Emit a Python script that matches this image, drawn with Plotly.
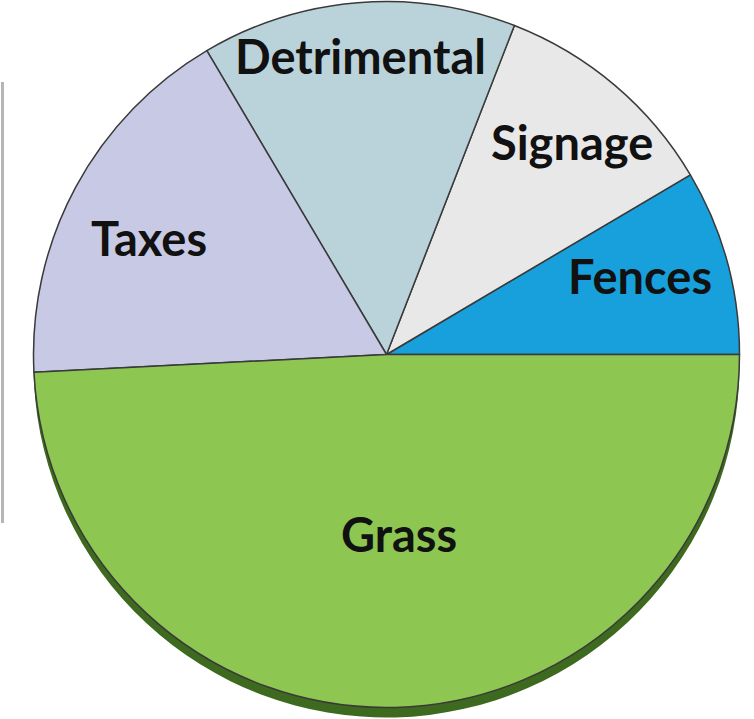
import plotly.graph_objects as go

labels = ["Fences", "Signage", "Detrimental", "Taxes", "Grass"]
values = [8.5, 10.6, 14.4, 17.3, 49.2]
colors = ["#17A0DC", "#E8E8E8", "#BAD3DA", "#C8CAE5", "#8DC650"]
shadow_color = "#3D6A1E"

# label anchor positions (pixels in the reference picture)
label_x = [640, 572, 360, 149, 399]
label_y = [276, 142, 56, 237.5, 534]

W, H = 754, 719
D = 706          # pie diameter in px
cx, top = 386.5, 1.5
x0, x1 = (cx - D / 2) / W, (cx + D / 2) / W
off = 10         # drop-shadow offset

# first slice (Fences) starts at 3 o'clock and runs counter-clockwise;
# plotly places the first slice clockwise of the rotation angle
rot = 90 - 360 * values[0] / sum(values)

fig = go.Figure()
# drop shadow
fig.add_trace(go.Pie(
    labels=labels, values=values, sort=False, direction="counterclockwise",
    rotation=rot, textinfo="none", hoverinfo="skip", showlegend=False,
    marker=dict(colors=[shadow_color] * len(values), line=dict(width=0)),
    domain=dict(x=[x0, x1], y=[1 - (top + D + off) / H, 1 - (top + off) / H]),
))
fig.add_trace(go.Pie(
    labels=labels, values=values, sort=False, direction="counterclockwise",
    rotation=rot, textinfo="none", showlegend=False,
    marker=dict(colors=colors, line=dict(color="#3A3A3A", width=1.5)),
    domain=dict(x=[x0, x1], y=[1 - (top + D) / H, 1 - top / H]),
))

for lab, lx, ly in zip(labels, label_x, label_y):
    fig.add_annotation(
        text=lab, x=lx / W, y=1 - ly / H, xref="paper", yref="paper",
        xanchor="center", yanchor="middle", showarrow=False,
        font=dict(family="Lato", size=47, color="#111111", weight="bold"),
    )

fig.add_shape(type="line", xref="paper", yref="paper",
              x0=2.5 / W, x1=2.5 / W, y0=1 - 82 / H, y1=1 - 523 / H,
              line=dict(color="#B5B5B5", width=3))

fig.update_layout(
    width=W, height=H, margin=dict(l=0, r=0, t=0, b=0),
    paper_bgcolor="white", plot_bgcolor="white",
)

fig.write_html("out.html", post_script="document.body.style.margin='0';",
               config={"displayModeBar": False})
